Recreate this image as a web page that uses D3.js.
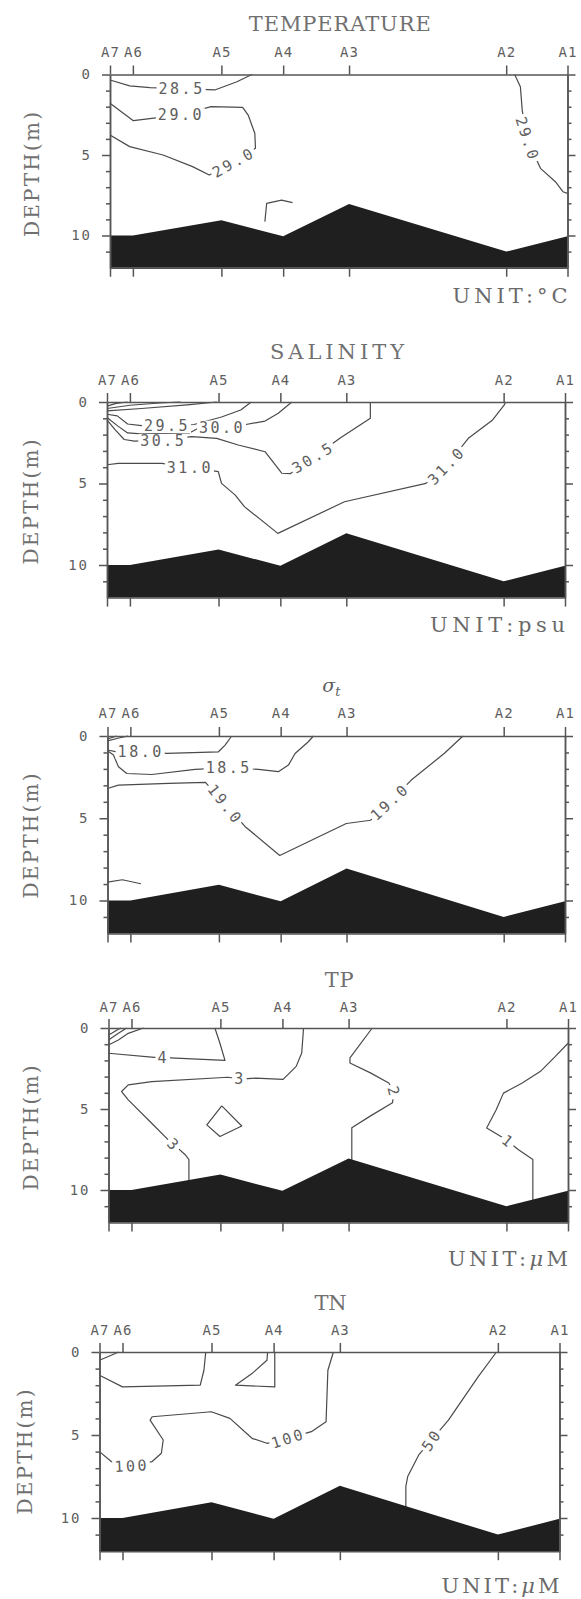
<!DOCTYPE html>
<html><head><meta charset="utf-8">
<script src="https://cdn.jsdelivr.net/npm/d3@7"></script>
<style>body{margin:0;background:#fff}svg{display:block}</style>
</head><body><svg id="c" width="581" height="1599"></svg>
<script>
// ---------- data ----------
const stations    = ["A7","A6","A5","A4","A3","A2","A1"];
const stationDist = [0, 1.0, 4.87, 7.57, 10.45, 17.32, 20];   // km along section
const bottomDepth = [10, 10, 9.05, 10.05, 8.05, 11.0, 10.05]; // m
const depthMajor  = [0, 5, 10];
const depthMinor  = [1, 2, 3, 4, 6, 7, 8, 9, 11];
const titles = ["TEMPERATURE", "SALINITY", "σt", "TP", "TN"];
const units  = ["UNIT:°C", "UNIT:psu", null, "UNIT:μM", "UNIT:μM"];

// contour lines: points are [distance km, depth m]; labels [distance, depth, angle]
const tempContours = [
  {level:"28.5", pts:[[0,0.34],[0.86,0.71],[1.75,0.82],[3.13,0.88],[4.58,0.96],[5.55,0.45],[6.2,0]], lab:[[3.13,0.88,0]]},
  {level:"29.0", pts:[[0,1.79],[1.02,2.87],[1.83,2.72],[3.1,2.5],[4.42,2.0],[5.8,2.04],[6.04,2.52],[6.33,3.65],[6.36,4.58],[5.4,5.45],[4.34,6.24],[3.61,5.72],[2.32,5.0],[0.86,4.48],[0,3.76]], lab:[[3.1,2.5,0],[5.4,5.45,-29]]},
  {level:"", pts:[[6.77,9.14],[6.85,8.0],[7.5,7.8],[7.98,7.96]], lab:[]},
  {level:"29.0", pts:[[17.69,0],[17.94,0.76],[18.02,2.2],[18.22,4.0],[18.82,5.83],[19.47,6.66],[19.8,7.28],[20,7.38]], lab:[[18.25,4.0,72]]}
];
const salContours = [
  {level:"", pts:[[0,0.25],[0.4,0.08],[0.9,0]], lab:[]},
  {level:"", pts:[[0,0.4],[1.0,0.2],[2.3,0.06],[3.2,0]], lab:[]},
  {level:"", pts:[[0,0.55],[1.5,0.4],[3.5,0.18],[4.8,0]], lab:[]},
  {level:"29.5", pts:[[0,0.75],[0.45,0.85],[0.9,1.35],[1.5,1.45],[2.62,1.45],[3.8,1.38],[5.0,0.92],[5.84,0.49],[6.3,0]], lab:[[2.62,1.45,0]]},
  {level:"30.0", pts:[[0,0.95],[0.45,1.45],[0.9,1.9],[1.5,1.95],[3.6,1.9],[4.0,1.6],[5.02,1.55],[5.95,1.41],[6.9,1.17],[7.48,0.69],[8.07,0]], lab:[[5.02,1.55,0]]},
  {level:"30.5", pts:[[0,1.1],[0.35,1.7],[0.75,2.3],[1.2,2.4],[2.46,2.33],[3.7,2.13],[4.79,2.23],[5.73,2.64],[6.9,3.05],[7.63,4.37],[8.0,4.4],[9.0,3.4],[10.2,2.19],[11.5,1.0],[11.5,0]], lab:[[2.46,2.36,0],[9.0,3.4,-31]]},
  {level:"31.0", pts:[[0,3.85],[0.49,3.76],[2.39,3.76],[3.62,4.0],[4.86,4.27],[5.0,4.99],[5.59,5.7],[6.0,6.42],[7.46,8.06],[10.37,6.12],[13.93,4.99],[14.82,3.9],[15.78,2.23],[16.84,1.1],[17.35,0.18],[17.4,0]], lab:[[3.62,4.02,0],[14.82,3.9,-46]]}
];
const sigmaContours = [
  {level:"", pts:[[0,0.3],[0.5,0.12],[0.9,0]], lab:[]},
  {level:"", pts:[[0,0.18],[0.4,0]], lab:[]},
  {level:"18.0", pts:[[0,0.85],[0.4,0.96],[1.45,0.96],[2.59,1.06],[4.85,0.96],[5.14,0.55],[5.43,0]], lab:[[1.45,0.96,0]]},
  {level:"18.5", pts:[[0,0.9],[0.26,1.16],[0.48,1.87],[0.84,2.28],[1.94,2.34],[3.83,2.03],[5.3,1.93],[6.6,2.03],[7.47,2.17],[7.91,1.77],[8.2,1.06],[8.78,0.35],[9.0,0]], lab:[[5.3,1.93,0]]},
  {level:"19.0", pts:[[0,3.19],[0.48,2.99],[2.67,2.88],[4.28,2.82],[5.15,4.15],[6.01,5.5],[7.53,7.26],[10.44,5.32],[11.5,5.12],[12.34,4.0],[13.28,2.68],[14.73,1.05],[15.54,0]], lab:[[5.15,4.15,52],[12.34,4.0,-43]]},
  {level:"", pts:[[0,8.88],[0.65,8.74],[1.46,8.98]], lab:[]}
];
const tpContours = [
  {level:"", pts:[[0,1.05],[0.43,0.74],[0.86,0.33],[1.52,0]], lab:[]},
  {level:"", pts:[[0,0.74],[0.43,0.33],[0.79,0]], lab:[]},
  {level:"", pts:[[0,0.4],[0.14,0.33],[0.43,0.08],[0.55,0]], lab:[]},
  {level:"4", pts:[[0,1.56],[2.0,1.81],[2.38,1.85],[2.68,1.85],[5.07,2.0],[4.85,0.94],[4.63,0]], lab:[[2.38,1.85,0]]},
  {level:"3", pts:[[8.49,0],[8.41,1.54],[8.17,2.37],[7.6,3.17],[6.4,3.1],[5.72,3.15],[5.2,3.04],[1.88,3.31],[0.86,3.51],[0.57,3.92],[0.86,4.44],[1.88,5.88],[2.6,6.91],[2.85,7.2],[3.34,7.82],[3.5,8.12],[3.5,9.5]], lab:[[5.72,3.15,0],[2.85,7.2,43]]},
  {level:"", pts:[[4.93,4.81],[5.8,6.05],[4.85,6.7],[4.28,5.98],[4.93,4.81]], lab:[]},
  {level:"2", pts:[[11.48,0],[10.51,1.85],[10.51,2.16],[11.4,2.77],[12.2,3.39],[12.42,3.95],[12.36,4.61],[11.39,5.44],[10.59,6.16],[10.59,8.3]], lab:[[12.42,3.95,75]]},
  {level:"1", pts:[[20,0.94],[19.44,1.77],[18.79,2.69],[17.99,3.41],[17.19,4.02],[16.87,5.06],[16.46,6.17],[17.19,6.79],[17.4,7.0],[17.83,7.5],[18.47,8.12],[18.47,11.0]], lab:[[17.4,7.0,38]]}
];
const tnContours = [
  {level:"", pts:[[0,0.5],[0.51,0.2],[0.83,0]], lab:[]},
  {level:"", pts:[[0,1.4],[1.0,2.1],[4.38,2.0],[4.54,1.1],[4.62,0]], lab:[]},
  {level:"", pts:[[7.31,0],[7.28,0.5],[6.63,1.3],[5.91,2.0],[7.62,2.1],[7.62,0]], lab:[]},
  {level:"100", pts:[[10.17,0],[9.93,1.1],[9.85,4.2],[9.21,4.8],[8.2,5.2],[7.28,5.5],[6.63,5.2],[5.67,4.0],[4.86,3.6],[2.29,3.9],[2.2,4.1],[2.77,5.3],[2.69,6.1],[2.29,6.6],[1.4,6.85],[0.51,6.6],[0,6.0]], lab:[[8.2,5.2,-18],[1.4,6.85,-3]]},
  {level:"50", pts:[[17.26,0],[16.46,1.5],[15.17,4.1],[14.44,5.3],[13.88,6.2],[13.4,7.5],[13.32,8.1],[13.32,9.5]], lab:[[14.44,5.3,-55]]}
];
const allContours = [tempContours, salContours, sigmaContours, tpContours, tnContours];

// ---------- layout ----------
const panels = [
  {top:74.5, left:110,   right:567.5, pxm:16.1,  titleY:31,   titleW:182, stY:57,   unitY:303,  unitW:115, depthX:32},
  {top:402,  left:107,   right:565,   pxm:16.3,  titleY:359,  titleW:134, stY:385,  unitY:632,  unitW:135, depthX:31},
  {top:736,  left:107.5, right:565,   pxm:16.45, titleY:692,  titleW:0,   stY:718,  unitY:0,    unitW:0,   depthX:31},
  {top:1028, left:108.5, right:568,   pxm:16.2,  titleY:987,  titleW:29,  stY:1012, unitY:1266, unitW:120, depthX:31},
  {top:1352, left:99.5,  right:559.5, pxm:16.6,  titleY:1310, titleW:32,  stY:1335, unitY:1593, unitW:118, depthX:25}
];

const svg = d3.select("#c");
const INK = "#4a4a4a", TXT = "#5e5e5e", SERIF = "'DejaVu Serif', serif", MONO = "'DejaVu Sans Mono', monospace";

panels.forEach((p, i) => {
  const x = d3.scaleLinear().domain([0, 20]).range([p.left, p.right]);
  const y = d3.scaleLinear().domain([0, 12]).range([p.top, p.top + 12 * p.pxm]);
  const g = svg.append("g");

  // title
  if (i === 2) {
    const t = g.append("text").attr("x", (p.left + p.right) / 2 - 5).attr("y", p.titleY)
      .attr("text-anchor", "middle").attr("fill", TXT).style("font-family", SERIF)
      .style("font-style", "italic").style("font-size", "19px");
    t.append("tspan").text("σ");
    t.append("tspan").attr("dy", 4).style("font-size", "13px").text("t");
  } else {
    g.append("text").attr("x", (p.left + p.right) / 2 + 1).attr("y", p.titleY)
      .attr("text-anchor", "middle").attr("fill", "#707070").style("font-family", SERIF)
      .style("font-size", "21px").attr("textLength", p.titleW).attr("lengthAdjust", "spacing")
      .text(titles[i]);
  }

  // contours
  const line = d3.line().x(d => x(d[0])).y(d => y(d[1]));
  const cg = g.append("g");
  allContours[i].forEach(c => {
    cg.append("path").attr("d", line(c.pts)).attr("fill", "none")
      .attr("stroke", INK).attr("stroke-width", 1.2).attr("stroke-linejoin", "round");
  });
  allContours[i].forEach(c => {
    c.lab.forEach(l => {
      const lg = cg.append("g").attr("transform", `translate(${x(l[0])},${y(l[1])}) rotate(${l[2]})`);
      const r = lg.append("rect").attr("fill", "#fff");
      const t = lg.append("text").attr("text-anchor", "middle").attr("dy", "0.36em")
        .attr("fill", TXT).style("font-family", MONO).style("font-size", "15px")
        .style("letter-spacing", "2.5px").text(c.level);
      const bb = t.node().getBBox();
      r.attr("x", bb.x - 2).attr("y", bb.y + 2).attr("width", bb.width + 3).attr("height", bb.height - 4);
    });
  });

  // bottom topography
  const area = d3.area().x((d, k) => x(stationDist[k])).y0(y(12)).y1(d => y(d));
  g.append("path").attr("d", area(bottomDepth)).attr("fill", "#1f1f1f");

  // axes
  const styleAxis = sel => {
    sel.selectAll("path,line").attr("stroke", "#555").attr("stroke-width", 1.5);
    sel.selectAll("text").attr("fill", TXT).style("font-family", MONO);
  };
  g.append("g").attr("transform", `translate(0,${p.top})`)
    .call(d3.axisTop(x).tickValues(stationDist).tickFormat((d, k) => stations[k]).tickSize(9).tickPadding(8).tickSizeOuter(0))
    .call(styleAxis).call(s => s.selectAll("text").style("font-size", "14px").style("letter-spacing", "1px")
      .attr("y", p.stY - p.top).attr("dy", 0));
  g.append("g").attr("transform", `translate(0,${y(12)})`)
    .call(d3.axisBottom(x).tickValues(stationDist).tickFormat("").tickSize(9).tickSizeOuter(0))
    .call(styleAxis);
  g.append("g").attr("transform", `translate(${p.left},0)`)
    .call(d3.axisLeft(y).tickValues(depthMajor).tickFormat(d3.format("d")).tickSize(8).tickPadding(10).tickSizeOuter(0))
    .call(styleAxis).call(s => s.selectAll("text").style("font-size", "14px").style("letter-spacing", "2px"));
  g.append("g").attr("transform", `translate(${p.left},0)`)
    .call(d3.axisLeft(y).tickValues(depthMinor).tickFormat("").tickSize(4).tickSizeOuter(0))
    .call(styleAxis);
  g.append("g").attr("transform", `translate(${p.right},0)`)
    .call(d3.axisRight(y).tickValues(depthMajor).tickFormat("").tickSize(8).tickSizeOuter(0))
    .call(styleAxis);
  g.append("g").attr("transform", `translate(${p.right},0)`)
    .call(d3.axisRight(y).tickValues(depthMinor).tickFormat("").tickSize(4).tickSizeOuter(0))
    .call(styleAxis);

  // depth label
  g.append("text").attr("transform", `translate(${p.depthX},${p.top + 100}) rotate(-90)`)
    .attr("text-anchor", "middle").attr("dy", "0.36em").attr("fill", "#707070")
    .style("font-family", SERIF).style("font-size", "20px")
    .attr("textLength", 125).attr("lengthAdjust", "spacing").text("DEPTH(m)");

  // unit
  if (units[i]) {
    const u = g.append("text").attr("x", p.right).attr("y", p.unitY).attr("text-anchor", "end")
      .attr("fill", "#6a6a6a").style("font-family", SERIF).style("font-size", "21px")
      .attr("textLength", p.unitW).attr("lengthAdjust", "spacing");
    const s = units[i];
    if (s.includes("μ")) {
      u.append("tspan").text(s.split("μ")[0]);
      u.append("tspan").style("font-style", "italic").text("μ");
      u.append("tspan").text(s.split("μ")[1]);
    } else u.text(s);
  }
});
</script>
</body></html>
